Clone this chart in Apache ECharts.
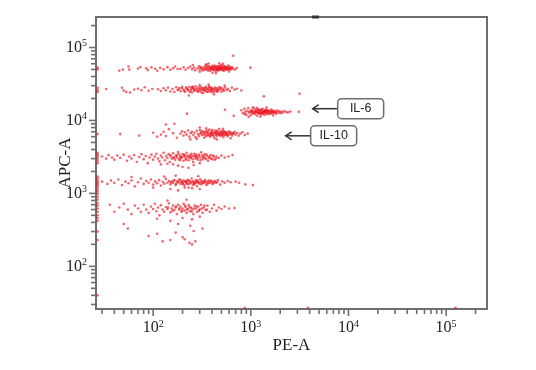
<!DOCTYPE html>
<html>
<head>
<meta charset="utf-8">
<script src="https://cdn.jsdelivr.net/npm/echarts@6/dist/echarts.min.js"></script>
<style>html,body{margin:0;padding:0;background:#fff}#c{width:536px;height:370px}</style>
</head>
<body>
<div id="c"></div>
<script>
// ---- axis ranges & ticks ----
const axisMin = 26;
const axisMax = 262144;
const majorTicks = [100, 1000, 10000, 100000];
const minorTicks = [30,40,50,60,70,80,90,200,300,400,500,600,700,800,900,2000,3000,4000,5000,6000,7000,8000,9000,20000,30000,40000,50000,60000,70000,80000,90000,200000];
const xTitle = 'PE-A';
const yTitle = 'APC-A';
const annotations = [
  {text: 'IL-6', x: 4300, y: 14500},
  {text: 'IL-10', x: 2275, y: 6160}
];

// ---- events (PE-A, APC-A) ----
const bandA = [[45,48300],[49,49800],[56,55000],[57,49800],[70,51400],[74,54000],[85,52000],[88,49000],[96,53500],[105,51200],[110,48000],[118,52600],[128,50400],[140,53800],[150,49600],[160,52000],[168,55000],[178,50600],
[190,51000],[205,53500],[215,49500],[228,52500],[240,55000],[250,50500],[262,53000],[270,48800],[285,51800],[295,55500],[300,50000],[310,52800],[320,48500],[330,54200],[338,51200],[345,57000],[352,49200],[360,53000],[368,50600],[375,55200],[382,47800],[390,52400],[398,50200],[405,56000],[412,49000],[420,53800],[428,51000],[435,47500],[442,54800],[450,50800],[458,52600],[465,48600],[472,55800],[480,51400],[488,53600],[495,49600],[505,57500],[515,50400],[525,52800],[535,48200],[545,55000],[555,51000],[565,53400],[578,49400],[590,56500],[605,51600],[620,50000],[640,53800],[660,51200],[690,49800],[720,52400],[370,60500],[440,44500],[300,46500],[520,60000],[255,57500],[405,45200],[475,61000],[350,58800],[600,46800],[385,51500],[415,53200],[455,50200],[500,52200],[540,51600],[660,77000],[990,53000],
[305,53800],[318,51000],[333,49600],[347,52600],[358,55800],[366,48400],[381,53600],[394,50800],[402,54600],[418,50200],[426,56400],[438,52000],[447,48800],[453,55400],[462,51800],[470,49200],[478,53000],[486,56800],[497,51000],[508,54200],[518,48400],[528,55600],[538,51400],[552,53200],[563,49800],[575,54600],[588,52000],[598,50400],[612,54000],[630,51800]];

const bandB = [[33,27000],[48,28000],[50,25800],[53,24500],[58,24200],[64,26600],[70,27200],[76,26000],[82,28500],[90,25500],[98,27000],
[112,26800],[120,25400],[128,27600],[135,26000],[142,28200],[150,25000],[158,27000],[165,24600],[172,28600],[178,26200],[185,27800],[192,25200],[198,29000],[205,26600],[212,24800],[220,27400],[228,25800],[235,28800],[242,26000],[250,24200],[258,27800],[265,25600],[272,29400],[280,26400],[288,24800],[295,27000],[302,25200],[310,28400],[318,26200],[325,23800],[332,27600],[340,25400],[348,29000],[355,26800],[362,24600],[370,27800],[378,25800],[385,28600],[392,26400],[400,24400],[410,27200],[420,25000],[430,28200],[440,26000],[450,27600],[462,25200],[475,28800],[488,26600],[500,24800],[515,27400],[530,25600],[548,28000],[565,26200],[585,27000],[610,25400],[640,28200],[680,26600],[720,27200],
[232,22000],[300,30500],[420,22800],[370,31000],[540,30000],[800,25800],[1360,21400],[260,26900],[330,26100],[395,27100],[455,26300],[250,28600],
[182,26400],[196,27600],[208,25400],[218,28400],[226,26800],[238,24600],[246,27200],[254,29200],[262,26000],[276,27400],[284,25400],[292,28600],[306,26800],[314,24200],[322,27800],[336,26400],[344,28000],[352,25000],[366,26800],[374,29200],[382,25200],[398,27800],[406,25800],[426,26800],[446,24800],[468,27000],[494,28000],[522,26200]];

const il6 = [[800,13800],[830,12600],[860,14400],[880,13100],[900,12000],[920,13600],[940,14800],[960,12800],[980,13400],[1000,11800],[1020,14000],[1040,12500],[1060,13200],[1080,14600],[1100,12200],[1120,13800],[1140,12900],[1160,11600],[1180,13500],[1200,14200],[1220,12400],[1240,13000],[1260,13900],[1280,12100],[1300,13300],[1320,14500],[1340,12700],[1360,13600],[1380,11900],[1400,13100],[1420,14000],[1440,12600],[1460,13400],[1480,12200],[1500,13800],[1530,12900],[1560,13500],[1590,12300],[1620,14100],[1650,13000],[1680,12500],[1710,13600],[1740,12800],[1780,13300],[1820,12400],[1860,13700],[1900,12900],[1950,13400],[2000,12600],[2060,13200],[2120,12800],[2200,13500],[2300,13000],[2420,12900],[2550,13300],[1050,15200],[1250,11300],[1450,15000],[950,11200],[1700,11700],[870,12200],[1150,14900],[1010,13000],[1110,13300],[1210,12800],[1310,12900],[1410,13500],[3100,13100],[3160,23200],
[1030,13500],[1070,12700],[1130,13100],[1170,14100],[1190,12600],[1230,13700],[1270,12500],[1290,14100],[1330,13000],[1350,12300],[1390,13800],[1430,12900],[1470,13600],[1520,13200],[1550,12500],[1600,13000],[1640,13600],[1720,13200],[1800,12900]];

const il10 = [[46,6500],[72,6200],[100,6800],[110,6000],[120,6400],[128,7000],[135,6100],[145,7600],[160,6700],[165,9000],[175,5800],[135,8800],
[190,6600],[198,7100],[205,6200],[212,6900],[220,6400],[228,7300],[235,6000],[242,6700],[250,7000],[258,6300],[265,6800],[272,5900],[280,7200],[288,6500],[295,6100],[302,7400],[310,6800],[318,6300],[325,7000],[332,5800],[340,6600],[348,7200],[355,6200],[362,6900],[370,6400],[378,7500],[385,6000],[392,6700],[400,7100],[408,6300],[416,6800],[424,5700],[432,7300],[440,6500],[448,6100],[456,7000],[465,6600],[474,7600],[483,6200],[492,6900],[502,6400],[512,7200],[522,5900],[532,6700],[543,7000],[555,6300],[567,6800],[580,6100],[595,7100],[610,6500],[625,6900],[642,6200],[660,6700],[680,7000],[700,6400],[725,6800],[750,6200],[780,6600],[820,6900],[870,6300],[930,6600],[280,5600],[350,7800],[450,5500],[520,7700],[620,5700],[300,8000],[240,5500],[390,6500],[430,6800],[470,6400],[510,6600],[560,6500],[222,12400],[543,14000],[670,11600],
[305,6600],[315,7100],[328,6400],[336,6900],[345,6100],[358,6700],[366,7300],[374,6200],[388,6800],[396,6300],[404,7400],[412,6600],[420,6100],[436,6900],[444,6400],[452,7200],[461,6700],[478,6500],[488,7000],[498,6200],[508,6800],[518,6400],[528,7100],[538,6300],[550,6900],[572,6600],[588,6300],[604,6800],[636,6500],[668,6600]];

const bandE = [[30,3200],[33,3000],[35,3350],[38,3100],[40,2900],[43,3300],[46,3050],[50,3400],[54,2800],[57,3200],[60,3000],[64,3350],[68,2700],[72,3150],[76,3450],[80,2950],[84,3250],[88,2600],[92,3100],[96,3400],[100,2900],[104,3200],[108,3500],[112,3000],[116,2750],[120,3300],[124,3100],[128,3600],[132,2850],[136,3250],[140,3050],[144,3450],[148,2700],[152,3200],[156,3000],[160,3550],[164,3150],[168,2900],[172,3350],[176,3100],[180,3700],[185,2950],[190,3250],[195,3050],[200,3450],[205,2800],[210,3200],[215,3000],[220,3600],[226,3150],[232,2850],[238,3350],[244,3050],[250,3250],[257,2700],[264,3500],[271,3000],[278,3200],[286,2900],[294,3400],[302,3100],[311,3650],[320,2950],[330,3250],[340,3050],[352,3400],[365,2800],[378,3150],[392,3000],[408,3300],[425,2900],[445,3200],[470,3050],[500,3300],[540,3100],[590,3200],[650,3350],[180,2400],[200,2300],[230,2250],[160,2500],[260,2450],[140,2550],[300,2600],[120,2500],[210,3300],[240,3150],[270,3250],[190,3100],
[150,3350],[162,3050],[174,3250],[183,3450],[188,2850],[198,3150],[208,3400],[218,2900],[224,3300],[235,3100],[247,3500],[254,2950],[262,3200],[275,3400],[282,3050],[292,3250],[306,2850],[316,3300],[326,3100],[336,3450],[348,2950],[360,3250],[372,3050],[386,3350],[402,2950],[418,3200],[440,3000]];

const bandF = [[30,1450],[34,1350],[37,1500],[40,1400],[44,1550],[48,1300],[52,1450],[56,1380],[60,1500],[65,1250],[70,1420],[75,1600],[80,1350],[85,1480],[90,1400],[95,1550],[100,1320],[105,1460],[110,1380],[115,1520],[120,1280],[125,1440],[130,1360],[135,1580],[140,1400],[145,1480],[150,1330],[155,1450],[160,1390],[165,1530],[170,1300],[175,1470],[180,1410],[185,1560],[190,1350],[195,1440],[200,1380],[205,1500],[210,1290],[215,1460],[220,1400],[225,1540],[230,1340],[236,1480],[242,1420],[248,1600],[254,1310],[260,1450],[267,1380],[274,1520],[281,1260],[288,1430],[296,1400],[304,1560],[312,1330],[320,1470],[330,1400],[340,1520],[350,1300],[362,1450],[375,1380],[390,1500],[405,1350],[420,1440],[440,1400],[460,1520],[485,1320],[510,1460],[540,1400],[580,1480],[620,1420],[700,1450],[760,1400],[880,1330],[1050,1300],[150,1150],[180,1100],[210,1200],[250,1180],[130,1700],[170,1750],[230,1200],[300,1150],[100,1200],[60,1680],[290,1720],[200,1430],[220,1470],[260,1390],[280,1410],
[152,1420],[162,1490],[172,1360],[182,1450],[192,1520],[202,1340],[212,1430],[222,1360],[232,1500],[240,1380],[252,1460],[264,1330],[276,1440],[286,1500],[298,1360],[310,1450],[324,1390],[336,1480],[346,1410],[358,1360],[370,1500],[384,1420],[398,1460],[414,1380],[430,1480],[452,1420]];

const bandG = [[36,700],[40,560],[45,640],[50,720],[55,600],[60,520],[65,680],[70,620],[75,560],[80,700],[85,600],[90,540],[95,660],[100,610],[104,720],[108,570],[112,640],[116,500],[120,690],[125,600],[130,560],[135,650],[140,610],[145,730],[150,550],[155,620],[160,680],[165,590],[170,640],[175,520],[180,700],[185,600],[190,660],[195,560],[200,620],[205,720],[210,580],[215,650],[220,540],[226,610],[232,690],[238,570],[244,640],[250,600],[258,520],[266,680],[274,620],[282,560],[290,660],[300,600],[310,700],[320,540],[330,640],[345,590],[360,680],[380,560],[400,620],[420,700],[445,580],[470,640],[500,610],[540,660],[600,620],[680,630],[110,450],[150,420],[200,460],[250,440],[300,480],[140,800],[220,820],[180,380],[240,360],[50,380],[55,330],[110,280],[170,290],[150,230],[200,250],[210,235],[235,210],[250,200],[260,305],[320,330],[90,260],[125,220],[270,220],
[142,640],[158,580],[172,660],[186,620],[198,580],[212,680],[222,600],[236,640],[248,560],[262,620],[278,660],[294,580],[315,620],[335,680],[355,600]];

const edgePoints = [[27,50000],[27,53000],[27,26000],[27,28000],[27,24500],[27,6500],[27,3600],[27,3400],[27,3200],[27,3000],[27,2800],[27,2600],[27,1700],[27,1600],[27,1500],[27,1420],[27,1350],[27,1280],[27,1200],[27,1120],[27,1050],[27,980],[27,900],[27,820],[27,740],[27,680],[27,620],[27,560],[27,500],[27,460],[27,420],[27,300],[27,230],[27,40],[870,27],[3850,27],[125000,27]];

const events = [].concat(bandA, bandB, il6, il10, bandE, bandF, bandG, edgePoints);

const serif = "'Liberation Serif', 'DejaVu Serif', serif";
const axisColor = '#6f6f6f';

function powLabel(v) {
  const e = Math.log10(v);
  if (Math.abs(e - Math.round(e)) > 1e-6) return '';
  return '{b|10}{s|' + Math.round(e) + '}';
}
const labelRich = {
  b: {fontFamily: serif, fontSize: 16, lineHeight: 18, color: '#222'},
  s: {fontFamily: serif, fontSize: 10, lineHeight: 10, verticalAlign: 'top', color: '#222'}
};

function tickSeries(values, len, isX) {
  return {
    type: 'custom',
    silent: true,
    clip: false,
    z: 5,
    data: values.map(v => isX ? [v, axisMin] : [axisMin, v]),
    renderItem: function (params, api) {
      const p = api.coord([api.value(0), api.value(1)]);
      const shape = isX ? {x1: p[0], y1: p[1], x2: p[0], y2: p[1] + len}
                        : {x1: p[0], y1: p[1], x2: p[0] - len, y2: p[1]};
      return {type: 'line', shape: shape, style: {stroke: axisColor, lineWidth: 1.6}};
    }
  };
}

const chart = echarts.init(document.getElementById('c'), null, {renderer: 'canvas'});
const option = {
  animation: false,
  backgroundColor: '#fff',
  grid: {left: 96, right: 49, top: 17, bottom: 61, show: true, borderColor: axisColor, borderWidth: 2, backgroundColor: 'transparent'},
  xAxis: {
    type: 'log', logBase: 10, min: axisMin, max: axisMax,
    name: xTitle, nameLocation: 'middle', nameGap: 28, nameMoveOverlap: false,
    nameTextStyle: {fontFamily: serif, fontSize: 17, color: '#222'},
    axisLine: {show: true, lineStyle: {color: axisColor, width: 2}},
    axisTick: {show: false},
    splitLine: {show: false},
    axisLabel: {margin: 10, formatter: powLabel, rich: labelRich, showMinLabel: true, showMaxLabel: true}
  },
  yAxis: {
    type: 'log', logBase: 10, min: axisMin, max: axisMax,
    name: yTitle, nameLocation: 'middle', nameGap: 22, nameRotate: 90, nameMoveOverlap: false,
    nameTextStyle: {fontFamily: serif, fontSize: 17, color: '#222'},
    axisLine: {show: true, lineStyle: {color: axisColor, width: 2}},
    axisTick: {show: false},
    splitLine: {show: false},
    axisLabel: {margin: 9, formatter: powLabel, rich: labelRich}
  },
  series: [
    {
      type: 'scatter',
      data: events,
      symbol: 'circle',
      symbolSize: 2.6,
      itemStyle: {color: 'rgba(236,16,28,0.8)'},
      silent: true,
      z: 3
    },
    tickSeries(majorTicks, 7, true),
    tickSeries(minorTicks, 5, true),
    tickSeries(majorTicks, 7, false),
    tickSeries(minorTicks, 5, false)
  ]
};
chart.setOption(option);

// annotations: rounded label boxes with arrows pointing at populations
const graphics = [];
annotations.forEach(a => {
  const tip = chart.convertToPixel({gridIndex: 0}, [a.x, a.y]);
  const tx = tip[0], ty = tip[1];
  const arrowLen = 25;
  const boxW = 46, boxH = 20;
  const bx = tx + arrowLen;
  graphics.push({type: 'line', shape: {x1: tx, y1: ty, x2: bx, y2: ty}, style: {stroke: '#333', lineWidth: 1.5}});
  graphics.push({type: 'polyline', shape: {points: [[tx + 6, ty - 4], [tx, ty], [tx + 6, ty + 4]]}, style: {stroke: '#333', lineWidth: 1.5, fill: null}});
  graphics.push({type: 'rect', shape: {x: bx, y: ty - boxH / 2, width: boxW, height: boxH, r: 4}, style: {fill: '#fff', stroke: '#6d6d6d', lineWidth: 1.5}});
  graphics.push({type: 'text', x: bx + boxW / 2, y: ty, style: {text: a.text, fill: '#222', font: "12.5px 'Liberation Sans', Arial, sans-serif", textAlign: 'center', textVerticalAlign: 'middle'}});
});
// small dark mark on the top border
graphics.push({type: 'rect', shape: {x: 312, y: 15.5, width: 7, height: 3}, style: {fill: '#333'}});
chart.setOption({graphic: graphics});
</script>
</body>
</html>
